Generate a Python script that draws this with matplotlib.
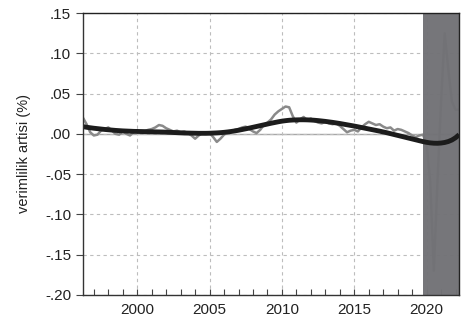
import numpy as np
import matplotlib
matplotlib.use("Agg")
import matplotlib.pyplot as plt
from matplotlib.ticker import FixedLocator, MultipleLocator, FuncFormatter

plt.rcParams.update({
    "font.family": ["Liberation Sans", "DejaVu Sans"],
    "font.size": 11,
})

# quarterly, 1996Q2 .. 2022Q2
start_year = 1996.25
productivity = [
    0.020, 0.012, 0.002, -0.002, -0.001, 0.004, 0.006, 0.008,
    0.004, 0.000, -0.001, 0.003, 0.000, -0.002, 0.002, 0.004,
    0.002, 0.003, 0.005, 0.006, 0.008, 0.011, 0.010, 0.007,
    0.005, 0.003, 0.004, 0.002, 0.003, 0.001, -0.002, -0.006,
    -0.002, 0.001, 0.000, 0.001, -0.004, -0.010, -0.006, -0.001,
    0.002, 0.003, 0.005, 0.006, 0.008, 0.009, 0.006, 0.003,
    0.001, 0.005, 0.011, 0.014, 0.018, 0.024, 0.028, 0.031,
    0.034, 0.033, 0.022, 0.014, 0.018, 0.021, 0.017, 0.019,
    0.016, 0.014, 0.013, 0.015, 0.013, 0.012, 0.013, 0.010,
    0.006, 0.002, 0.004, 0.005, 0.003, 0.008, 0.012, 0.015,
    0.013, 0.011, 0.012, 0.009, 0.007, 0.008, 0.004, 0.006,
    0.005, 0.003, 0.001, -0.002, -0.004, -0.002, -0.001, -0.012,
    -0.060, -0.170, -0.060, 0.040, 0.125, 0.080, 0.040, 0.030,
    0.030,
]
trend = [
    0.0090, 0.0082, 0.0076, 0.0070, 0.0065, 0.0060, 0.0055, 0.0051,
    0.0047, 0.0043, 0.0040, 0.0037, 0.0035, 0.0033, 0.0031, 0.0030,
    0.0029, 0.0028, 0.0027, 0.0026, 0.0025, 0.0024, 0.0023, 0.0021,
    0.0019, 0.0017, 0.0015, 0.0013, 0.0011, 0.0010, 0.0009, 0.0008,
    0.0007, 0.0007, 0.0007, 0.0008, 0.0010, 0.0012, 0.0015, 0.0019,
    0.0024, 0.0030, 0.0037, 0.0045, 0.0054, 0.0063, 0.0072, 0.0082,
    0.0092, 0.0102, 0.0112, 0.0122, 0.0132, 0.0141, 0.0150, 0.0158,
    0.0164, 0.0169, 0.0172, 0.0174, 0.0175, 0.0175, 0.0174, 0.0172,
    0.0169, 0.0165, 0.0160, 0.0155, 0.0149, 0.0143, 0.0136, 0.0129,
    0.0121, 0.0113, 0.0105, 0.0097, 0.0088, 0.0079, 0.0070, 0.0061,
    0.0052, 0.0043, 0.0034, 0.0024, 0.0014, 0.0003, -0.0008, -0.0019,
    -0.0030, -0.0041, -0.0052, -0.0063, -0.0074, -0.0085, -0.0096, -0.0105,
    -0.0112, -0.0116, -0.0117, -0.0114, -0.0107, -0.0095, -0.0076, -0.0048,
    -0.0010,
]
shade_start = 2019.75
x_min, x_max = 1996.25, 2022.25
y_ticks = [0.15, 0.10, 0.05, 0.00, -0.05, -0.10, -0.15, -0.20]
x_ticks = [2000, 2005, 2010, 2015, 2020]

t = start_year + 0.25 * np.arange(len(productivity))

fig = plt.figure(figsize=(4.61, 3.28), dpi=100)
ax = fig.add_axes([0.180, 0.101, 0.816, 0.859])

ax.plot(t, productivity, color="#8a8a8a", lw=1.8, zorder=2)
# recession band sits over the raw series, so it only shows faintly
ax.axvspan(shade_start, x_max + 1, color="#727276", alpha=0.972, lw=0, zorder=3)
ax.axhline(0, color="#a8a8a8", lw=1.0, zorder=1.5)
ax.plot(t, trend, color="#1c1c1c", lw=3.5, zorder=4, solid_capstyle="butt")

ax.set_xlim(x_min, x_max)
ax.set_ylim(-0.20, 0.15)
ax.xaxis.set_major_locator(FixedLocator(x_ticks))
ax.xaxis.set_minor_locator(MultipleLocator(1))
ax.yaxis.set_major_locator(FixedLocator(y_ticks))


def fmt(v, pos):
    s = f"{v:.2f}"
    return s.replace("0.", ".", 1)


ax.yaxis.set_major_formatter(FuncFormatter(fmt))
ax.tick_params(axis="x", which="both", direction="in", length=4, width=0.8,
               color="#444444", pad=6, labelcolor="#222222")
ax.tick_params(axis="y", direction="out", length=5, width=0.8,
               color="#444444", labelcolor="#222222")
ax.grid(True, which="major", color="#bdbdbd", ls=(0, (3, 3)), lw=0.8, zorder=1)
for side in ["top", "right"]:
    ax.spines[side].set_color("#222222")
for side in ["left", "bottom"]:
    ax.spines[side].set_color("#333333")
for sp in ax.spines.values():
    sp.set_linewidth(1.0)
    sp.set_zorder(5)

ax.set_ylabel("verimlilik artisi (%)", fontsize=10.5, color="#222222", labelpad=10)

fig.savefig("out.png", dpi=100)
